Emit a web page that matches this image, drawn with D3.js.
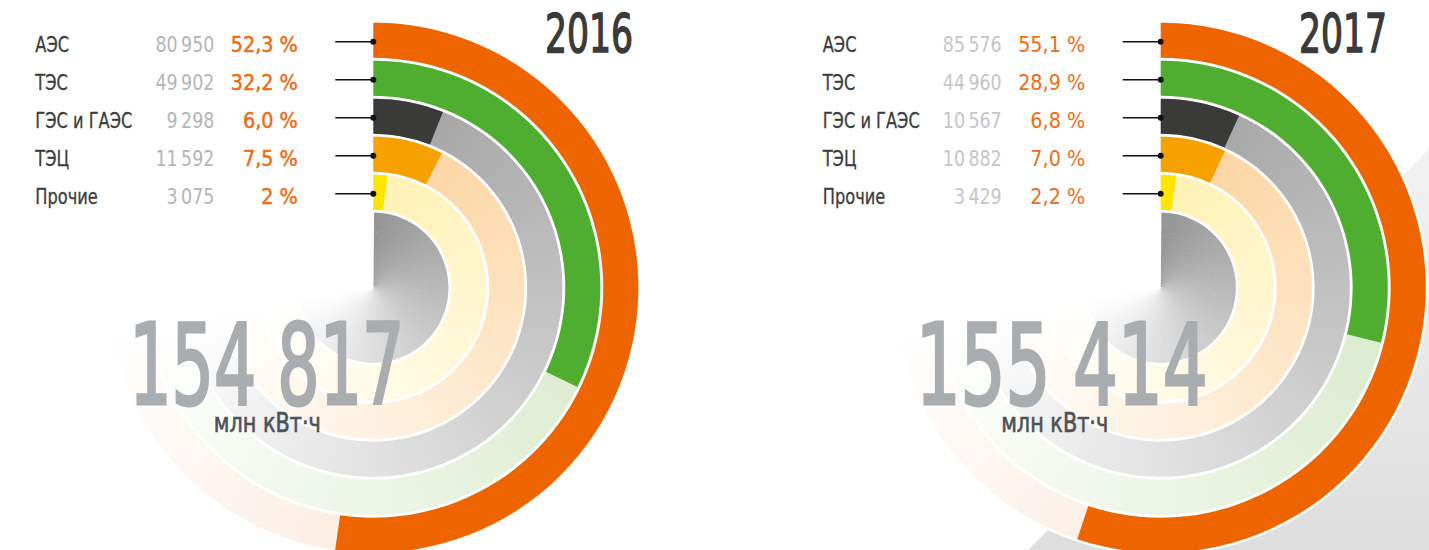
<!DOCTYPE html>
<html>
<head>
<meta charset="utf-8">
<script src="https://cdn.jsdelivr.net/npm/d3@7"></script>
<style>
  body { margin: 0; background: #fff; }
  text { font-family: 'Liberation Sans Narrow', 'DejaVu Sans Condensed', 'Roboto', sans-serif; font-stretch: condensed; }
</style>
</head>
<body>
<div id="chartTarget"></div>
<script>
// data
const categories = ['АЭС', 'ТЭС', 'ГЭС и ГАЭС', 'ТЭЦ', 'Прочие'];
const years = ['2016', '2017'];
const totals = [154817, 155414];
const values2016 = [80950, 49902, 9298, 11592, 3075];
const values2017 = [85576, 44960, 10567, 10882, 3429];
const shares2016 = [52.3, 32.2, 6.0, 7.5, 2];
const shares2017 = [55.1, 28.9, 6.8, 7.0, 2.2];
const shareLabels2016 = ['52,3 %', '32,2 %', '6,0 %', '7,5 %', '2 %'];
const shareLabels2017 = ['55,1 %', '28,9 %', '6,8 %', '7,0 %', '2,2 %'];
const unitLabel = 'млн кВт·ч';

// styles
const colors = ['#ee6500', '#4fae2f', '#3a3a38', '#f7a100', '#ffe400'];
const trackColors = ['#f6c09c', '#c4dfae', '#a0a0a0', '#fcd29c', '#fff1b4'];

const width = 1429;
const height = 550;
const cy = 287.7;

const ru = d3.formatLocale({decimal: ',', thousands: '\u2009', grouping: [3], currency: ['', '']});
const fmt = ru.format(',d');

const panels = [
  {year: years[0], total: totals[0], values: values2016, shares: shares2016, labels: shareLabels2016,
   cx: 373.3, yearEnd: 633, bigStart: 129.3, bigLen: 275, valueColor: '#b3b5b8', pctStroke: 0.5},
  {year: years[1], total: totals[1], values: values2017, shares: shares2017, labels: shareLabels2017,
   cx: 1160.7, yearEnd: 1387, bigStart: 915.7, bigLen: 292, valueColor: '#c4c6c8', pctStroke: 0}
];

let svg = d3.select('#chartTarget').append('svg')
  .attr('width', width)
  .attr('height', height);

// grey backdrop behind the 2017 chart
let defs = svg.append('defs');
let bg = defs.append('linearGradient')
  .attr('id', 'bgGrad')
  .attr('x1', 0).attr('y1', 0).attr('x2', 0).attr('y2', 1);
bg.append('stop').attr('offset', '0%').attr('stop-color', '#f2f2f2');
bg.append('stop').attr('offset', '100%').attr('stop-color', '#dedede');

svg.append('path')
  .attr('d', `M${width},149 L${width},${height} L1028,${height} Z`)
  .attr('fill', 'url(#bgGrad)');

let r = d3.scaleBand()
  .domain(categories.slice().reverse())
  .range([78, 265])
  .paddingInner(3 / 38)
  .paddingOuter(0);

let angle = d3.scaleLinear()
  .domain([0, 100])
  .range([0, 2 * Math.PI]);

const steps = d3.range(0, 360, 1);
const fadeAt = 260;
const fade = (base, deg) => d3.interpolateRgb(base, '#fff')(Math.min(1, deg / fadeAt));
const rad = deg => deg * Math.PI / 180;

function drawPanel(p) {
  let g = svg.append('g')
    .attr('transform', `translate(${p.cx},${cy})`);

  g.append('circle')
    .attr('r', 267.5)
    .attr('fill', '#fff');

  // inner grey disk, conic fade
  g.selectAll('.disk')
    .data(steps)
    .join('path')
      .attr('class', 'disk')
      .attr('d', deg => d3.arc()({innerRadius: 0, outerRadius: 75, startAngle: rad(deg), endAngle: rad(deg + 1.6)}))
      .attr('fill', deg => fade('#949494', deg));

  categories.forEach((c, i) => {
    let inner = r(c);
    let outer = inner + r.bandwidth();

    g.selectAll('.track' + i)
      .data(steps)
      .join('path')
        .attr('class', 'track' + i)
        .attr('d', deg => d3.arc()({innerRadius: inner, outerRadius: outer, startAngle: rad(deg), endAngle: rad(deg + 1.6)}))
        .attr('fill', deg => fade(trackColors[i], deg));

    g.append('path')
      .attr('class', 'bar')
      .attr('d', d3.arc()({innerRadius: inner, outerRadius: outer, startAngle: 0, endAngle: angle(p.shares[i])}))
      .attr('fill', colors[i]);
  });

  // big total
  svg.append('text')
    .attr('x', p.bigStart)
    .attr('y', 404)
    .attr('textLength', p.bigLen)
    .attr('lengthAdjust', 'spacingAndGlyphs')
    .style('font-size', '112px')
    .style('fill', '#a9adb0')
    .style('stroke', '#a9adb0')
    .style('stroke-width', 3)
    .text(fmt(p.total).replace('\u2009', ' '));

  svg.append('text')
    .attr('x', p.cx - 159.5)
    .attr('y', 432)
    .attr('textLength', 107)
    .attr('lengthAdjust', 'spacingAndGlyphs')
    .style('font-size', '26px')
    .style('fill', '#4b5258')
    .style('stroke', '#4b5258')
    .style('stroke-width', 0.6)
    .text(unitLabel);

  svg.append('text')
    .attr('x', p.yearEnd)
    .attr('y', 51.7)
    .attr('text-anchor', 'end')
    .attr('textLength', 88)
    .attr('lengthAdjust', 'spacingAndGlyphs')
    .style('font-size', '53px')
    .style('fill', '#3a3a3a')
    .style('stroke', '#3a3a3a')
    .style('stroke-width', 1.4)
    .text(p.year);

  // legend with leader lines
  let rows = svg.selectAll('.row' + p.year)
    .data(categories)
    .join('g')
      .attr('class', 'row' + p.year)
      .attr('transform', c => `translate(${p.cx},${cy - r(c) - r.bandwidth() / 2 + 1.5})`);

  rows.append('line')
    .attr('x1', -38).attr('x2', 0)
    .attr('stroke', '#111')
    .attr('stroke-width', 1.6);

  rows.append('circle')
    .attr('r', 3)
    .attr('fill', '#111');

  rows.append('text')
    .attr('transform', 'translate(-338,10) scale(0.82,1)')
    .style('font-size', '22px')
    .style('fill', '#3c3c3c')
    .style('stroke', '#3c3c3c')
    .style('stroke-width', 0.3)
    .text(c => c);

  rows.append('text')
    .attr('transform', 'translate(-159,10) scale(0.88,1)')
    .attr('text-anchor', 'end')
    .style('font-size', '22px')
    .style('fill', p.valueColor)
    .text((c, i) => fmt(p.values[i]));

  rows.append('text')
    .attr('transform', 'translate(-75.5,10) scale(0.97,1)')
    .attr('text-anchor', 'end')
    .style('font-size', '22px')
    .style('fill', '#ef6c14')
    .style('stroke', '#ef6c14')
    .style('stroke-width', p.pctStroke)
    .text((c, i) => p.labels[i]);
}

panels.forEach(drawPanel);
</script>
</body>
</html>
